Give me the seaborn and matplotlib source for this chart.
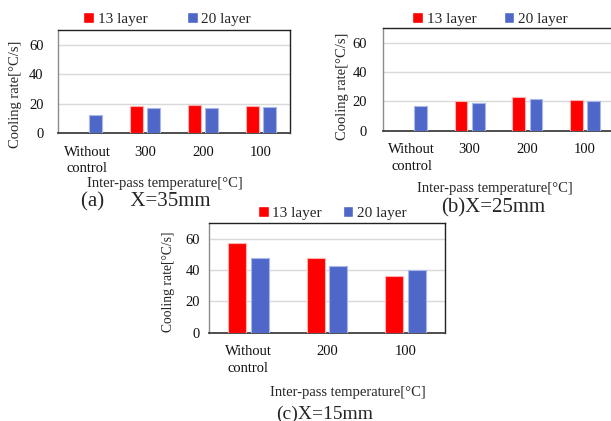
import numpy as np
import pandas as pd
import matplotlib
matplotlib.use("Agg")
import matplotlib.pyplot as plt
import seaborn as sns

# values
LAYERS = ["13 layer", "20 layer"]

cats_a = ["Without\ncontrol", "300", "200", "100"]
l13_a = [np.nan, 18.3, 19.2, 18.3]
l20_a = [12.2, 17.1, 17.0, 18.0]

cats_b = ["Without\ncontrol", "300", "200", "100"]
l13_b = [np.nan, 20.0, 22.7, 21.0]
l20_b = [17.0, 18.8, 21.7, 20.6]

cats_c = ["Without\ncontrol", "200", "100"]
l13_c = [57.4, 48.0, 36.0]
l20_c = [47.9, 42.6, 40.0]

PALETTE = {"13 layer": "#FF0000", "20 layer": "#4F67C8"}
EDGES = {"13 layer": "#FFB3B3", "20 layer": "#A9B7EA"}

sns.set_style("white")
plt.rcParams["font.family"] = ["Liberation Serif", "DejaVu Serif"]


def make_frame(cats, v13, v20):
    rows = []
    for c, a, b in zip(cats, v13, v20):
        rows.append({"cat": c, "layer": "13 layer", "rate": a})
        rows.append({"cat": c, "layer": "20 layer", "rate": b})
    return pd.DataFrame(rows)


def draw_panel(ax, cats, v13, v20, width, gap, ylab_fs, ypad, ylab_xy, xlab_xy, leg_xy, colsp):
    fs = 10.5
    df = make_frame(cats, v13, v20)
    sns.barplot(data=df, x="cat", y="rate", hue="layer", order=cats,
                hue_order=LAYERS, palette=PALETTE, saturation=1, width=width,
                gap=gap, errorbar=None, ax=ax, zorder=3)
    for cont, lay in zip(ax.containers, LAYERS):
        for bar in cont:
            bar.set_edgecolor(EDGES[lay])
            bar.set_linewidth(0.8)

    ax.set_ylim(0, 70)
    ax.set_xlim(-0.5, len(cats) - 0.5)
    ax.set_yticks([0, 20, 40, 60])
    ax.yaxis.grid(True, color="#D9D9D9", linewidth=1.0, zorder=0)
    ax.set_axisbelow(True)
    ax.tick_params(axis="both", length=0, labelsize=fs, colors="#111111")
    ax.tick_params(axis="y", pad=ypad)
    ax.tick_params(axis="x", pad=9)
    for lab in ax.get_xticklabels():
        lab.set_linespacing(1.4)

    for side in ["top", "right"]:
        ax.spines[side].set_visible(True)
        ax.spines[side].set_color("#222222")
        ax.spines[side].set_linewidth(1.0)
    ax.spines["left"].set_color("#8C8C8C")
    ax.spines["left"].set_linewidth(1.0)
    ax.spines["bottom"].set_color("#404040")
    ax.spines["bottom"].set_linewidth(1.3)

    ax.set_xlabel("Inter-pass temperature[°C]", fontsize=fs)
    ax.xaxis.set_label_coords(*xlab_xy)
    ax.set_ylabel("Cooling rate[°C/s]", fontsize=ylab_fs)
    ax.yaxis.set_label_coords(*ylab_xy)

    handles, labels = ax.get_legend_handles_labels()
    ax.legend(handles, labels, ncol=2, frameon=False, loc="center",
              bbox_to_anchor=leg_xy, fontsize=fs + 0.5, handlelength=0.7,
              handleheight=0.7, handletextpad=0.25, columnspacing=colsp)


W, H = 611, 421
fig = plt.figure(figsize=(W / 100, H / 100), dpi=100)


def px_axes(left, right, top, bottom):
    return fig.add_axes([left / W, 1 - bottom / H, (right - left) / W, (bottom - top) / H])


ax_a = px_axes(58, 290, 30, 133)
ax_b = px_axes(383, 614, 28.3, 130.7)
ax_c = px_axes(209, 445, 223.3, 332.7)

draw_panel(ax_a, cats_a, l13_a, l20_a, 0.59, 0.25, 10.5, 10.5,
           (-0.155, 0.38), (0.46, -0.424), (0.47, 1.11), 2.6)
draw_panel(ax_b, cats_b, l13_b, l20_b, 0.59, 0.25, 10.5, 11.5,
           (-0.148, 0.43), (0.4835, -0.50), (0.463, 1.09), 1.8)
draw_panel(ax_c, cats_c, l13_c, l20_c, 0.57, 0.2, 9.8, 6.5,
           (-0.144, 0.466), (0.587, -0.484), (0.523, 1.097), 1.35)

fig.text(146 / W, 1 - 202 / H, "(a)     X=35mm", fontsize=15, ha="center", va="center")
fig.text(493 / W, 1 - 208 / H, "(b)X=25mm", fontsize=15, ha="center", va="center")
fig.text(325 / W, 1 - 414 / H, "(c)X=15mm", fontsize=14, ha="center", va="center")

fig.savefig("out.png", dpi=100)
